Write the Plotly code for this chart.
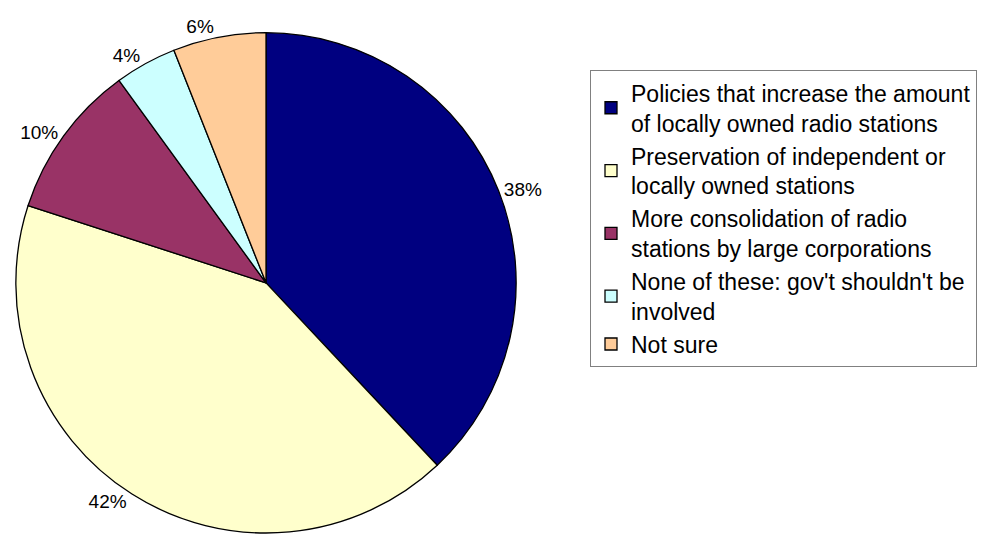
import plotly.graph_objects as go

# Survey answers and their shares (percent)
categories = [
    "Policies that increase the amount<br>of locally owned radio stations",
    "Preservation of independent or<br>locally owned stations",
    "More consolidation of radio<br>stations by large corporations",
    "None of these: gov't shouldn't be<br>involved",
    "Not sure",
]
shares = [38, 42, 10, 4, 6]
colors = ["#000080", "#FFFFCC", "#993366", "#CCFFFF", "#FFCC99"]

W, H = 989, 538
FONT = "Liberation Sans, Arial, sans-serif"

fig = go.Figure(
    go.Pie(
        labels=categories,
        values=shares,
        sort=False,
        direction="clockwise",
        rotation=0,
        marker=dict(colors=colors, line=dict(color="#000000", width=1.3)),
        text=[f"{v}%" for v in shares],
        textinfo="text",
        textposition="outside",
        outsidetextfont=dict(family=FONT, size=19, color="#000000"),
        domain=dict(x=[13 / W, 519 / W], y=[0.0, 1 - 33 / H]),
        hoverinfo="label+percent",
        showlegend=True,
    )
)

fig.update_layout(
    width=W,
    height=H,
    margin=dict(l=0, r=0, t=0, b=0),
    paper_bgcolor="white",
    plot_bgcolor="white",
    font=dict(family=FONT, size=23, color="#000000"),
    legend=dict(
        x=590 / W,
        y=1 - 71 / H,
        xanchor="left",
        yanchor="top",
        bgcolor="white",
        bordercolor="#808080",
        borderwidth=1,
        font=dict(size=23),
        itemwidth=30,
    ),
)

fig.write_html("out.html")
